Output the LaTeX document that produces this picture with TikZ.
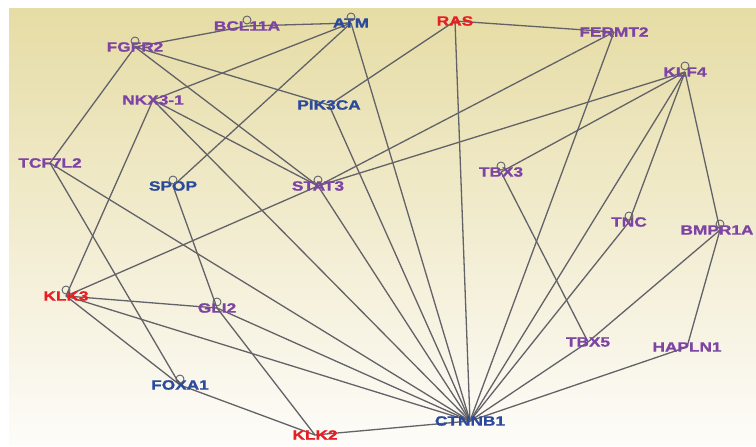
\documentclass[tikz,border=0pt]{standalone}
\usepackage{fontspec}
\newfontfamily\genefont[FakeStretch=1.28,FakeBold=1.2]{Liberation Sans}
\usepackage{tikz}
\usetikzlibrary{backgrounds}
\definecolor{genepurple}{RGB}{126,68,163}
\definecolor{geneblue}{RGB}{43,74,156}
\definecolor{genered}{RGB}{232,30,37}
\definecolor{edgegray}{RGB}{98,98,104}
\definecolor{bgtop}{RGB}{230,220,165}
\definecolor{bgmid}{RGB}{242,238,211}
\definecolor{bgbot}{RGB}{253,252,249}

\tikzset{
  gene/.style={inner sep=0pt, font=\genefont\bfseries\fontsize{13.5}{14}\selectfont},
  link/.style={edgegray, line width=1.3pt},
  ring/.style={edgegray, line width=0.9pt}
}

\begin{document}
\begin{tikzpicture}[x=1pt,y=-1pt]
\useasboundingbox (0,0) rectangle (756,447);

\node[gene, text=genepurple] (bcl11a) at (247,26) {BCL11A};
\node[gene, text=geneblue]   (atm)    at (351,23) {ATM};
\node[gene, text=genered]    (ras)    at (455,21) {RAS};
\node[gene, text=genepurple] (fermt2) at (614,32) {FERMT2};
\node[gene, text=genepurple] (fgfr2)  at (135,47) {FGFR2};
\node[gene, text=genepurple] (klf4)   at (685,72) {KLF4};
\node[gene, text=genepurple] (nkx31)  at (153,100) {NKX3-1};
\node[gene, text=geneblue]   (pik3ca) at (329,105) {PIK3CA};
\node[gene, text=genepurple] (tcf7l2) at (50,163) {TCF7L2};
\node[gene, text=genepurple] (tbx3)   at (501,172) {TBX3};
\node[gene, text=geneblue]   (spop)   at (173,186) {SPOP};
\node[gene, text=genepurple] (stat3)  at (318,186) {STAT3};
\node[gene, text=genepurple] (tnc)    at (629,222) {TNC};
\node[gene, text=genepurple] (bmpr1a) at (717,230) {BMPR1A};
\node[gene, text=genered]    (klk3)   at (66,296) {KLK3};
\node[gene, text=genepurple] (gli2)   at (217,308) {GLI2};
\node[gene, text=genepurple] (tbx5)   at (588,342) {TBX5};
\node[gene, text=genepurple] (hapln1) at (687,347) {HAPLN1};
\node[gene, text=geneblue]   (foxa1)  at (180,385) {FOXA1};
\node[gene, text=geneblue]   (ctnnb1) at (470,421) {CTNNB1};
\node[gene, text=genered]    (klk2)   at (315,435) {KLK2};

\begin{scope}[on background layer]
\shade[top color=bgtop, middle color=bgmid, bottom color=bgbot] (9,8) rectangle (756,445);

% top row
\draw[link] (fgfr2.center) -- (bcl11a.center) -- (atm.center);
\draw[link] (pik3ca.center) -- (ras.center) -- (fermt2.center);
\draw[link] (atm.center) -- (nkx31.center);
\draw[link] (atm.center) -- (spop.center);
\draw[link] (fgfr2.center) -- (tcf7l2.center);
\draw[link] (fgfr2.center) -- (stat3.center);
\draw[link] (fgfr2.center) -- (pik3ca.center);
\draw[link] (nkx31.center) -- (stat3.center);
\draw[link] (nkx31.center) -- (klk3.center);
\draw[link] (fermt2.center) -- (stat3.center);
\draw[link] (klf4.center) -- (stat3.center);
\draw[link] (klf4.center) -- (tbx3.center);
\draw[link] (klf4.center) -- (tnc.center);
\draw[link] (klf4.center) -- ([xshift=3pt]bmpr1a.center);
\draw[link] (tbx3.center) -- (tbx5.center);
\draw[link] (tbx5.center) -- ([xshift=3pt]bmpr1a.center) -- (hapln1.center);

% left side
\draw[link] (tcf7l2.center) -- (foxa1.center);
\draw[link] (spop.center) -- (gli2.center);
\draw[link] (klk3.center) -- (stat3.center);
\draw[link] (klk3.center) -- (gli2.center);
\draw[link] (klk3.center) -- (foxa1.center);
\draw[link] (gli2.center) -- (klk2.center);
\draw[link] (foxa1.center) -- (klk2.center);

% hub
\foreach \g in {atm, ras, fermt2, klf4, nkx31, pik3ca, tcf7l2, stat3, tnc,
                klk3, gli2, tbx5, hapln1, klk2}
  \draw[link] (\g.center) -- (ctnnb1.center);
\end{scope}

\foreach \g in {bcl11a, atm, fgfr2, klf4, tbx3, spop, stat3, tnc, klk3, gli2, foxa1}
  \draw[ring] ([yshift=6pt]\g.center) circle (4pt);
\draw[ring] ([xshift=3pt,yshift=6pt]bmpr1a.center) circle (4pt);

\end{tikzpicture}
\end{document}
